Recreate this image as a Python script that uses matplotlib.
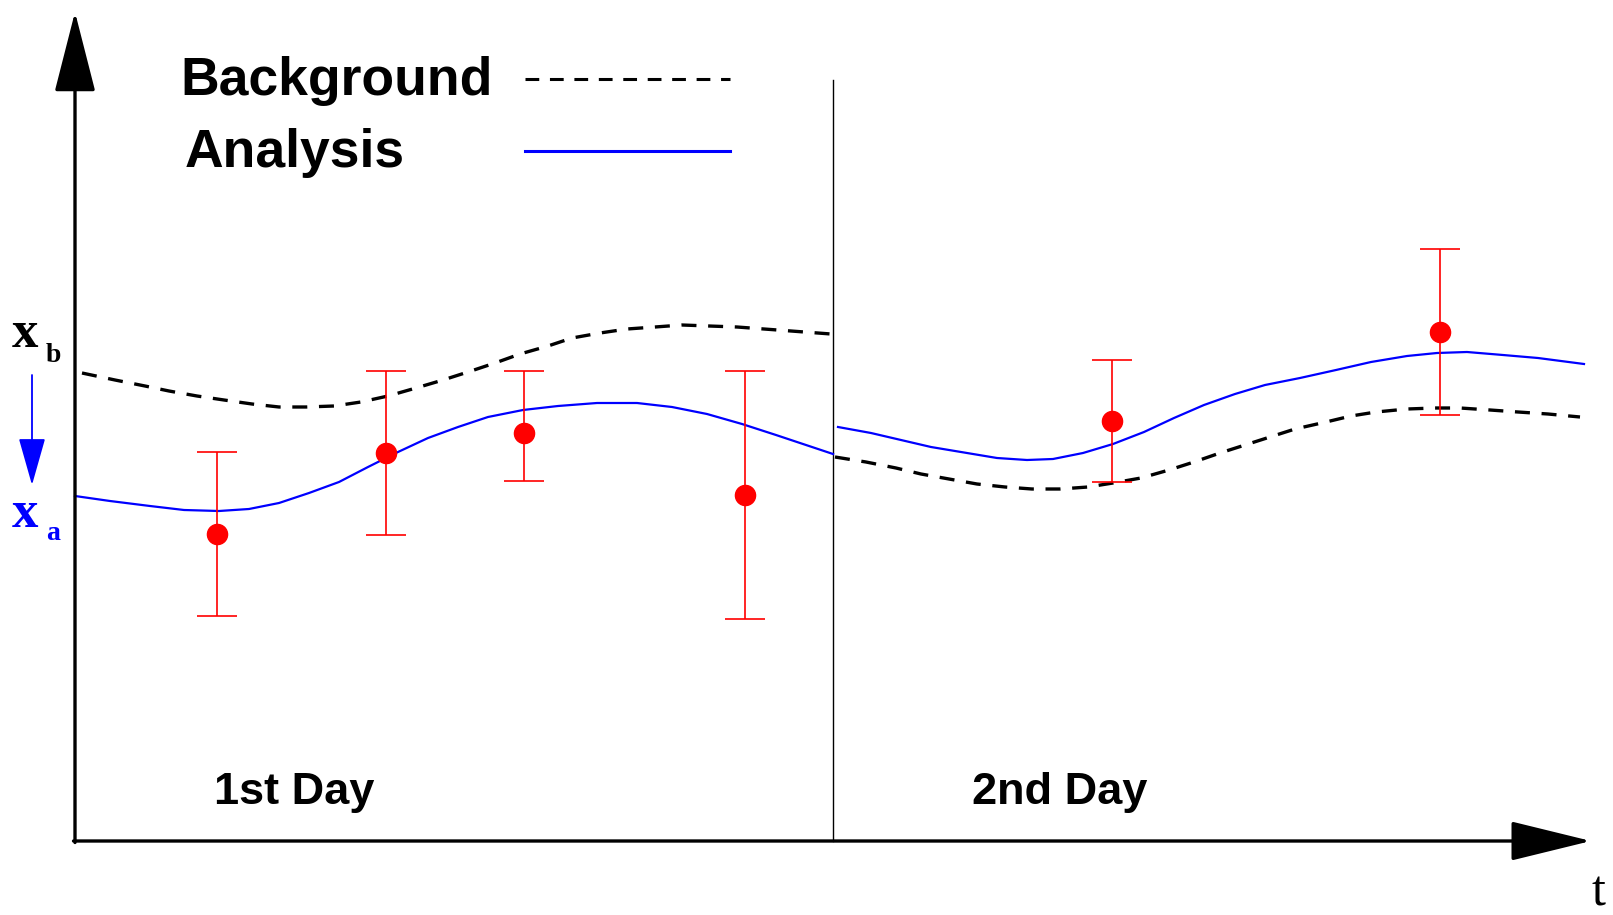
import matplotlib
matplotlib.use("Agg")
import matplotlib.pyplot as plt

# schematic drawn in picture coordinates (y grows downward)
W, H = 1613, 915

# background trajectory, day 1 and day 2
bg1_t = [82, 115, 145, 169, 197, 224, 252, 279, 306, 334, 361, 388, 416, 443, 468,
         495, 520, 548, 572, 600, 627, 655, 682, 709, 737, 764, 791, 831]
bg1_x = [373, 380, 386, 391, 396, 400, 404, 407, 407, 406, 402, 396, 388, 380, 372,
         363, 354, 346, 338, 333, 329, 327, 325, 326, 327, 329, 331, 334]
bg2_t = [835, 866, 896, 921, 949, 977, 1005, 1032, 1060, 1088, 1113, 1141, 1169, 1194,
         1220, 1245, 1270, 1295, 1326, 1351, 1376, 1407, 1435, 1460, 1490, 1518, 1548, 1580]
bg2_x = [457, 462, 468, 474, 479, 484, 487, 489, 489, 487, 483, 478, 470, 462,
         453, 445, 437, 429, 422, 416, 412, 409, 408, 408, 410, 412, 414, 417]

# analysis trajectory, day 1 and day 2
an1_t = [75, 110, 150, 184, 219, 249, 279, 309, 339, 368, 398, 428, 458, 488, 523,
         558, 597, 637, 672, 707, 742, 776, 806, 833]
an1_x = [496, 501, 506, 510, 511, 509, 503, 493, 482, 467, 452, 438, 427, 417, 410,
         406, 403, 403, 407, 414, 424, 435, 445, 454]
an2_t = [838, 871, 901, 931, 967, 997, 1027, 1053, 1083, 1113, 1144, 1174, 1204, 1235,
         1265, 1300, 1336, 1371, 1407, 1437, 1467, 1503, 1538, 1584]
an2_x = [427, 433, 440, 447, 453, 458, 460, 459, 453, 444, 432, 418, 405, 394,
         385, 378, 370, 362, 356, 353, 352, 355, 358, 364]

# observations with error ranges
obs_t = [217, 386, 524, 745, 1112, 1440]
obs_x = [534, 453, 433, 495, 421, 332]
obs_top = [452, 371, 371, 371, 360, 249]
obs_bot = [616, 535, 481, 619, 482, 415]

x0, y0 = 75, 841        # origin of the axes
t_end, x_top = 1591, 12
t_split = 833

fig = plt.figure(figsize=(W / 100, H / 100), dpi=100)
ax = fig.add_axes([0, 0, 1, 1])
ax.set_xlim(0, W)
ax.set_ylim(H, 0)
ax.axis("off")

# axes with arrow heads
ax.annotate("", xy=(x0, x_top), xytext=(x0, y0 + 1.5),
            arrowprops=dict(arrowstyle="-|>,head_length=5.1,head_width=1.3",
                            mutation_scale=10, lw=2.4, color="black",
                            shrinkA=0, shrinkB=0))
ax.annotate("", xy=(t_end, y0), xytext=(x0 - 1.5, y0),
            arrowprops=dict(arrowstyle="-|>,head_length=5.1,head_width=1.25",
                            mutation_scale=10, lw=2.4, color="black",
                            shrinkA=0, shrinkB=0))
ax.plot([t_split, t_split], [80, y0], color="black", lw=1.0)

# trajectories
dash = (0, (4.5, 3.5))
ax.plot(bg1_t, bg1_x, color="black", lw=2.4, linestyle=dash)
ax.plot(bg2_t, bg2_x, color="black", lw=2.4, linestyle=dash)
ax.plot(an1_t, an1_x, color="#0000ff", lw=1.6)
ax.plot(an2_t, an2_x, color="#0000ff", lw=1.6)

# observations
yerr = [[o - t for o, t in zip(obs_x, obs_top)], [b - o for o, b in zip(obs_x, obs_bot)]]
ax.errorbar(obs_t, obs_x, yerr=yerr, fmt="o", color="red", ecolor="red",
            markersize=14.5, elinewidth=1.2, capsize=14.5, capthick=1.2)

# legend
sans = "Liberation Sans"
ax.text(180, 95, "Background", fontsize=38.5, fontweight="bold", family=sans,
        va="baseline", ha="left")
ax.text(185, 167, "Analysis", fontsize=38.5, fontweight="bold", family=sans,
        va="baseline", ha="left")
ax.plot([525, 730], [79, 79], color="black", lw=2.2, linestyle=(0, (4.5, 3.5)))
ax.plot([525, 730], [151, 151], color="#0000ff", lw=2.2)

# day labels
ax.text(214, 804, "1st Day", fontsize=32.5, fontweight="bold", family=sans,
        va="baseline", ha="left")
ax.text(972, 804, "2nd Day", fontsize=32.5, fontweight="bold", family=sans,
        va="baseline", ha="left")

# x_b -> x_a on the left
serif = "Liberation Serif"
ax.text(12, 347, "x", fontsize=38, fontweight="bold", family=serif,
        va="baseline", ha="left")
ax.text(46, 362, "b", fontsize=20, fontweight="bold", family=serif,
        va="baseline", ha="left")
ax.text(12, 527, "x", fontsize=38, fontweight="bold", family=serif,
        va="baseline", ha="left", color="#0000ff")
ax.text(46, 540, "a", fontsize=20, fontweight="bold", family=serif,
        va="baseline", ha="left", color="#0000ff")
ax.annotate("", xy=(32, 485), xytext=(32, 375),
            arrowprops=dict(arrowstyle="-|>,head_length=3.0,head_width=0.85",
                            mutation_scale=10, lw=1.3, color="#0000ff",
                            shrinkA=0, shrinkB=0))

ax.text(1591, 906, "t", fontsize=36, family=serif, va="baseline", ha="left")

fig.savefig("out.png", dpi=100)
